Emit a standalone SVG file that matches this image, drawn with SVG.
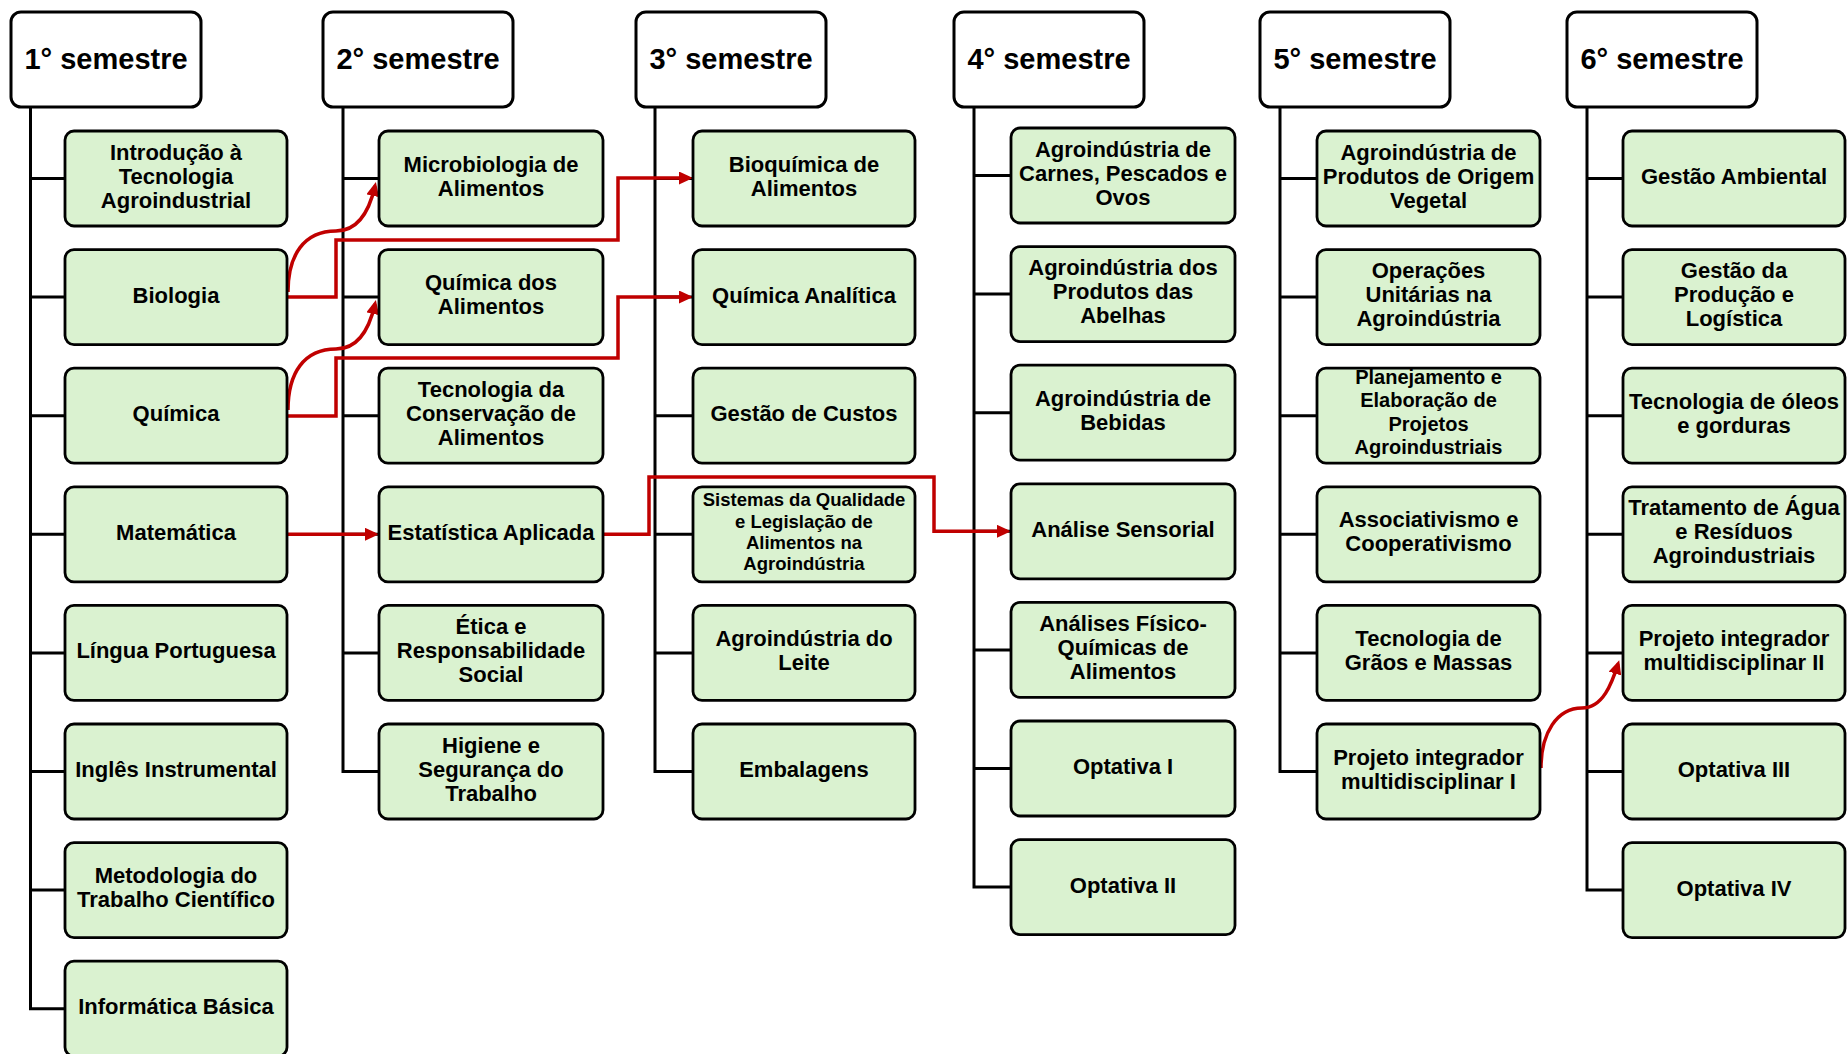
<svg xmlns="http://www.w3.org/2000/svg" width="1847" height="1054" viewBox="0 0 1847 1054">
<defs>
<style>
.hdr rect{fill:#fff;stroke:#000;stroke-width:3}
.hdr text{font-family:"Liberation Sans",Arial,sans-serif;font-weight:700;font-size:29px;text-anchor:middle;fill:#000}
.node rect{fill:#DAF2D0;stroke:#000;stroke-width:2.8}
.node text{font-family:"Liberation Sans",Arial,sans-serif;font-weight:700;font-size:22px;text-anchor:middle;fill:#000}
.node text.s18{font-size:18.5px}
.node text.s20{font-size:20px}
.tree{fill:none;stroke:#000;stroke-width:3}
.link{fill:none;stroke:#C00000;stroke-width:3.5}
</style>
<marker id="arr" markerUnits="userSpaceOnUse" viewBox="0 0 14 13" markerWidth="14" markerHeight="13" refX="10" refY="6.5" orient="auto">
<path d="M0,0 L14,6.5 L0,13 z" fill="#C00000"/>
</marker>
</defs>
<rect width="1847" height="1054" fill="#fff"/>

<g id="connectors">
<g id="tree">
<path class="tree" d="M30.5,107 V1008.7 H65 M30.5,178.5 H65 M30.5,297.1 H65 M30.5,415.7 H65 M30.5,534.3 H65 M30.5,652.9 H65 M30.5,771.5 H65 M30.5,890.1 H65"/>
<path class="tree" d="M343,107 V771.5 H379 M343,178.5 H379 M343,297.1 H379 M343,415.7 H379 M343,534.3 H379 M343,652.9 H379"/>
<path class="tree" d="M655,107 V771.5 H693 M655,178.5 H693 M655,297.1 H693 M655,415.7 H693 M655,534.3 H693 M655,652.9 H693"/>
<path class="tree" d="M974,107 V887.1 H1011 M974,175.5 H1011 M974,294.1 H1011 M974,412.7 H1011 M974,531.3 H1011 M974,649.9 H1011 M974,768.5 H1011"/>
<path class="tree" d="M1280,107 V771.5 H1317 M1280,178.5 H1317 M1280,297.1 H1317 M1280,415.7 H1317 M1280,534.3 H1317 M1280,652.9 H1317"/>
<path class="tree" d="M1587,107 V890.1 H1623 M1587,178.5 H1623 M1587,297.1 H1623 M1587,415.7 H1623 M1587,534.3 H1623 M1587,652.9 H1623 M1587,771.5 H1623"/>
</g>
<g id="prereqs">
<path class="link" marker-end="url(#arr)" d="M288,292 C288,255 304,231 336,231 C360,231 370,208 375,186"/>
<path class="link" marker-end="url(#arr)" d="M287,297 H336 V240 H618 V178 H689"/>
<path class="link" marker-end="url(#arr)" d="M288,410 C288,373 304,349 336,349 C360,349 370,326 375,304"/>
<path class="link" marker-end="url(#arr)" d="M287,416 H336 V358 H618 V297 H689"/>
<path class="link" marker-end="url(#arr)" d="M287,534.3 H375"/>
<path class="link" marker-end="url(#arr)" d="M603,534.3 H649 V477 H934 V531.3 H1007"/>
<path class="link" marker-end="url(#arr)" d="M1541,768 C1541,733 1557,708 1582,708 C1603,708 1612,683 1618,664"/>
</g>
</g>

<g id="headers">
<g id="sem1" class="hdr"><rect x="11" y="12" width="190" height="95" rx="10"/><text x="106" y="68.5">1° semestre</text></g>
<g id="sem2" class="hdr"><rect x="323" y="12" width="190" height="95" rx="10"/><text x="418" y="68.5">2° semestre</text></g>
<g id="sem3" class="hdr"><rect x="636" y="12" width="190" height="95" rx="10"/><text x="731" y="68.5">3° semestre</text></g>
<g id="sem4" class="hdr"><rect x="954" y="12" width="190" height="95" rx="10"/><text x="1049" y="68.5">4° semestre</text></g>
<g id="sem5" class="hdr"><rect x="1260" y="12" width="190" height="95" rx="10"/><text x="1355" y="68.5">5° semestre</text></g>
<g id="sem6" class="hdr"><rect x="1567" y="12" width="190" height="95" rx="10"/><text x="1662" y="68.5">6° semestre</text></g>
</g>

<g id="col1">
<g id="n1-1" class="node"><rect x="65" y="131" width="222" height="95" rx="9"/><text x="176" y="159.5">Introdução à</text><text x="176" y="183.5">Tecnologia</text><text x="176" y="207.5">Agroindustrial</text></g>
<g id="n1-2" class="node"><rect x="65" y="249.6" width="222" height="95" rx="9"/><text x="176" y="302.6">Biologia</text></g>
<g id="n1-3" class="node"><rect x="65" y="368.2" width="222" height="95" rx="9"/><text x="176" y="421.2">Química</text></g>
<g id="n1-4" class="node"><rect x="65" y="486.8" width="222" height="95" rx="9"/><text x="176" y="539.8">Matemática</text></g>
<g id="n1-5" class="node"><rect x="65" y="605.4" width="222" height="95" rx="9"/><text x="176" y="658.4">Língua Portuguesa</text></g>
<g id="n1-6" class="node"><rect x="65" y="724" width="222" height="95" rx="9"/><text x="176" y="777">Inglês Instrumental</text></g>
<g id="n1-7" class="node"><rect x="65" y="842.6" width="222" height="95" rx="9"/><text x="176" y="883.1">Metodologia do</text><text x="176" y="907.1">Trabalho Científico</text></g>
<g id="n1-8" class="node"><rect x="65" y="961.2" width="222" height="95" rx="9"/><text x="176" y="1014.2">Informática Básica</text></g>
</g>

<g id="col2">
<g id="n2-1" class="node"><rect x="379" y="131" width="224" height="95" rx="9"/><text x="491" y="171.5">Microbiologia de</text><text x="491" y="195.5">Alimentos</text></g>
<g id="n2-2" class="node"><rect x="379" y="249.6" width="224" height="95" rx="9"/><text x="491" y="290.1">Química dos</text><text x="491" y="314.1">Alimentos</text></g>
<g id="n2-3" class="node"><rect x="379" y="368.2" width="224" height="95" rx="9"/><text x="491" y="396.7">Tecnologia da</text><text x="491" y="420.7">Conservação de</text><text x="491" y="444.7">Alimentos</text></g>
<g id="n2-4" class="node"><rect x="379" y="486.8" width="224" height="95" rx="9"/><text x="491" y="539.8">Estatística Aplicada</text></g>
<g id="n2-5" class="node"><rect x="379" y="605.4" width="224" height="95" rx="9"/><text x="491" y="633.9">Ética e</text><text x="491" y="657.9">Responsabilidade</text><text x="491" y="681.9">Social</text></g>
<g id="n2-6" class="node"><rect x="379" y="724" width="224" height="95" rx="9"/><text x="491" y="752.5">Higiene e</text><text x="491" y="776.5">Segurança do</text><text x="491" y="800.5">Trabalho</text></g>
</g>

<g id="col3">
<g id="n3-1" class="node"><rect x="693" y="131" width="222" height="95" rx="9"/><text x="804" y="171.5">Bioquímica de</text><text x="804" y="195.5">Alimentos</text></g>
<g id="n3-2" class="node"><rect x="693" y="249.6" width="222" height="95" rx="9"/><text x="804" y="302.6">Química Analítica</text></g>
<g id="n3-3" class="node"><rect x="693" y="368.2" width="222" height="95" rx="9"/><text x="804" y="421.2">Gestão de Custos</text></g>
<g id="n3-4" class="node"><rect x="693" y="486.8" width="222" height="95" rx="9"/><text class="s18" x="804" y="506.3">Sistemas da Qualidade</text><text class="s18" x="804" y="527.5">e Legislação de</text><text class="s18" x="804" y="548.7">Alimentos na</text><text class="s18" x="804" y="569.9">Agroindústria</text></g>
<g id="n3-5" class="node"><rect x="693" y="605.4" width="222" height="95" rx="9"/><text x="804" y="645.9">Agroindústria do</text><text x="804" y="669.9">Leite</text></g>
<g id="n3-6" class="node"><rect x="693" y="724" width="222" height="95" rx="9"/><text x="804" y="777">Embalagens</text></g>
</g>

<g id="col4">
<g id="n4-1" class="node"><rect x="1011" y="128" width="224" height="95" rx="9"/><text x="1123" y="156.5">Agroindústria de</text><text x="1123" y="180.5">Carnes, Pescados e</text><text x="1123" y="204.5">Ovos</text></g>
<g id="n4-2" class="node"><rect x="1011" y="246.6" width="224" height="95" rx="9"/><text x="1123" y="275.1">Agroindústria dos</text><text x="1123" y="299.1">Produtos das</text><text x="1123" y="323.1">Abelhas</text></g>
<g id="n4-3" class="node"><rect x="1011" y="365.2" width="224" height="95" rx="9"/><text x="1123" y="405.7">Agroindústria de</text><text x="1123" y="429.7">Bebidas</text></g>
<g id="n4-4" class="node"><rect x="1011" y="483.8" width="224" height="95" rx="9"/><text x="1123" y="536.8">Análise Sensorial</text></g>
<g id="n4-5" class="node"><rect x="1011" y="602.4" width="224" height="95" rx="9"/><text x="1123" y="630.9">Análises Físico-</text><text x="1123" y="654.9">Químicas de</text><text x="1123" y="678.9">Alimentos</text></g>
<g id="n4-6" class="node"><rect x="1011" y="721" width="224" height="95" rx="9"/><text x="1123" y="774">Optativa I</text></g>
<g id="n4-7" class="node"><rect x="1011" y="839.6" width="224" height="95" rx="9"/><text x="1123" y="892.6">Optativa II</text></g>
</g>

<g id="col5">
<g id="n5-1" class="node"><rect x="1317" y="131" width="223" height="95" rx="9"/><text x="1428.5" y="159.5">Agroindústria de</text><text x="1428.5" y="183.5">Produtos de Origem</text><text x="1428.5" y="207.5">Vegetal</text></g>
<g id="n5-2" class="node"><rect x="1317" y="249.6" width="223" height="95" rx="9"/><text x="1428.5" y="278.1">Operações</text><text x="1428.5" y="302.1">Unitárias na</text><text x="1428.5" y="326.1">Agroindústria</text></g>
<g id="n5-3" class="node"><rect x="1317" y="368.2" width="223" height="95" rx="9"/><text class="s20" x="1428.5" y="383.5">Planejamento e</text><text class="s20" x="1428.5" y="407">Elaboração de</text><text class="s20" x="1428.5" y="430.5">Projetos</text><text class="s20" x="1428.5" y="454">Agroindustriais</text></g>
<g id="n5-4" class="node"><rect x="1317" y="486.8" width="223" height="95" rx="9"/><text x="1428.5" y="527.3">Associativismo e</text><text x="1428.5" y="551.3">Cooperativismo</text></g>
<g id="n5-5" class="node"><rect x="1317" y="605.4" width="223" height="95" rx="9"/><text x="1428.5" y="645.9">Tecnologia de</text><text x="1428.5" y="669.9">Grãos e Massas</text></g>
<g id="n5-6" class="node"><rect x="1317" y="724" width="223" height="95" rx="9"/><text x="1428.5" y="764.5">Projeto integrador</text><text x="1428.5" y="788.5">multidisciplinar I</text></g>
</g>

<g id="col6">
<g id="n6-1" class="node"><rect x="1623" y="131" width="222" height="95" rx="9"/><text x="1734" y="184">Gestão Ambiental</text></g>
<g id="n6-2" class="node"><rect x="1623" y="249.6" width="222" height="95" rx="9"/><text x="1734" y="278.1">Gestão da</text><text x="1734" y="302.1">Produção e</text><text x="1734" y="326.1">Logística</text></g>
<g id="n6-3" class="node"><rect x="1623" y="368.2" width="222" height="95" rx="9"/><text x="1734" y="408.7">Tecnologia de óleos</text><text x="1734" y="432.7">e gorduras</text></g>
<g id="n6-4" class="node"><rect x="1623" y="486.8" width="222" height="95" rx="9"/><text x="1734" y="515.3">Tratamento de Água</text><text x="1734" y="539.3">e Resíduos</text><text x="1734" y="563.3">Agroindustriais</text></g>
<g id="n6-5" class="node"><rect x="1623" y="605.4" width="222" height="95" rx="9"/><text x="1734" y="645.9">Projeto integrador</text><text x="1734" y="669.9">multidisciplinar II</text></g>
<g id="n6-6" class="node"><rect x="1623" y="724" width="222" height="95" rx="9"/><text x="1734" y="777">Optativa III</text></g>
<g id="n6-7" class="node"><rect x="1623" y="842.6" width="222" height="95" rx="9"/><text x="1734" y="895.6">Optativa IV</text></g>
</g>
</svg>
